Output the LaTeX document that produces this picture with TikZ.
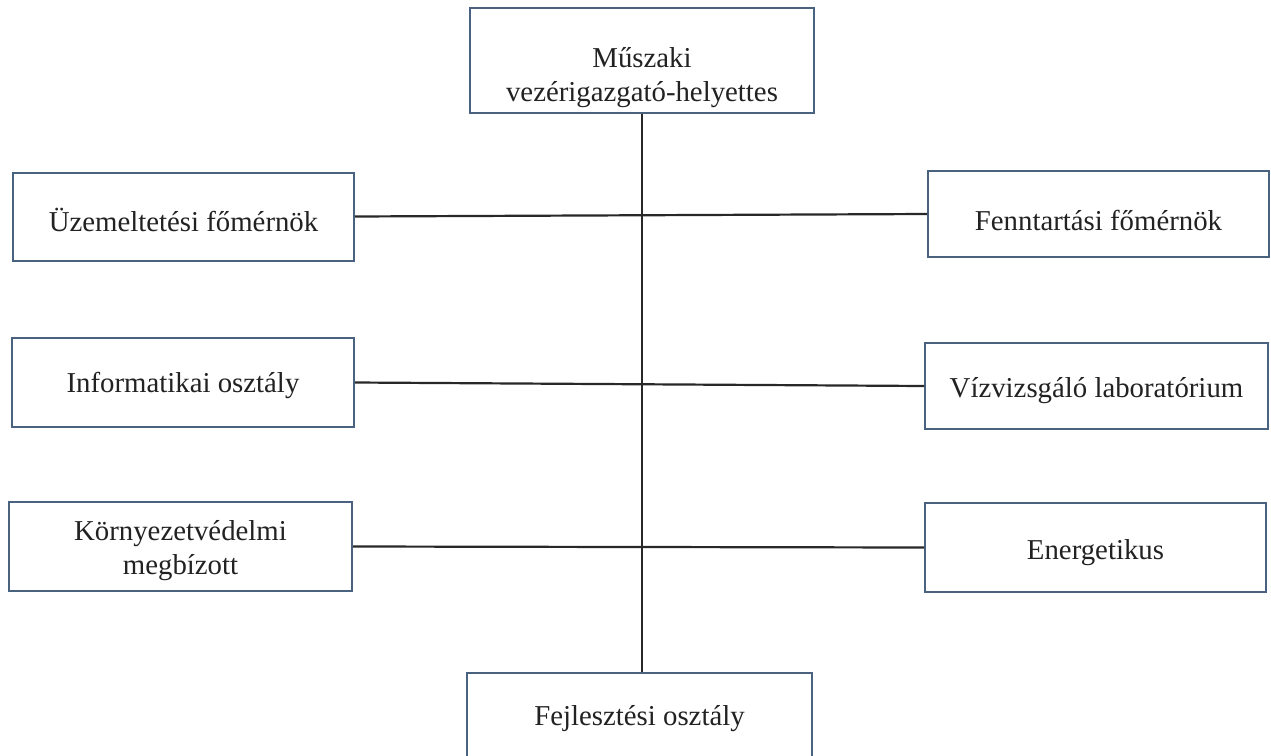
\documentclass[tikz,border=0pt]{standalone}
\usepackage{fontspec}
\setmainfont{Liberation Serif}
\begin{document}
\begin{tikzpicture}[x=0.5pt,y=-0.5pt,
  unit/.style={draw=boxblue, line width=1pt, fill=white, rectangle, inner sep=0pt},
  caption/.style={inner sep=0pt, align=center, text=textgray,
    font=\fontsize{14.4}{16.6}\selectfont},
  link/.style={draw=linegray, line width=1.1pt}]
\definecolor{boxblue}{RGB}{72,98,128}
\definecolor{linegray}{RGB}{40,40,40}
\definecolor{textgray}{RGB}{34,34,34}
\useasboundingbox[fill=white] (0,0) rectangle (1271,756);

% head of the division
\node[unit, minimum width=172pt, minimum height=52.5pt] (top) at (642,60.5) {};
\node[caption, yshift=-8.5pt] (toptext) at (top.center) {Műszaki\\vezérigazgató-helyettes};

% left column
\node[unit, minimum width=170.5pt, minimum height=44pt] (l1) at (183.5,216.5) {};
\node[unit, minimum width=171pt, minimum height=44.5pt] (l2) at (183,382.5) {};
\node[unit, minimum width=171.5pt, minimum height=44.5pt] (l3) at (180.5,546.5) {};
\node[caption, yshift=-1.5pt] (l1text) at (l1.center) {Üzemeltetési főmérnök};
\node[caption, yshift=-1.5pt] (l2text) at (l2.center) {Informatikai osztály};
\node[caption, yshift=-2pt] (l3text) at (l3.center) {Környezetvédelmi\\megbízott};

% right column
\node[unit, minimum width=170.5pt, minimum height=43pt] (r1) at (1098.5,214) {};
\node[unit, minimum width=171.5pt, minimum height=43pt] (r2) at (1096.5,386) {};
\node[unit, minimum width=170.5pt, minimum height=44.5pt] (r3) at (1095.5,547.5) {};
\node[caption, yshift=-3pt] (r1text) at (r1.center) {Fenntartási főmérnök};
\node[caption, yshift=-2.5pt] (r2text) at (r2.center) {Vízvizsgáló laboratórium};
\node[caption, yshift=-2.5pt] (r3text) at (r3.center) {Energetikus};

% bottom unit (runs past the lower edge)
\node[unit, minimum width=172.5pt, minimum height=44pt] (bot) at (639.5,717) {};
\node[caption, yshift=-1pt] (bottext) at (bot.center) {Fejlesztési osztály};

% connectors
\coordinate (spineend) at (top.south |- bot.north);
\draw[link] (top.south) -- (spineend);
\draw[link] (l1.east) -- (r1.west);
\draw[link] (l2.east) -- (r2.west);
\draw[link] (l3.east) -- (r3.west);
\end{tikzpicture}
\end{document}
